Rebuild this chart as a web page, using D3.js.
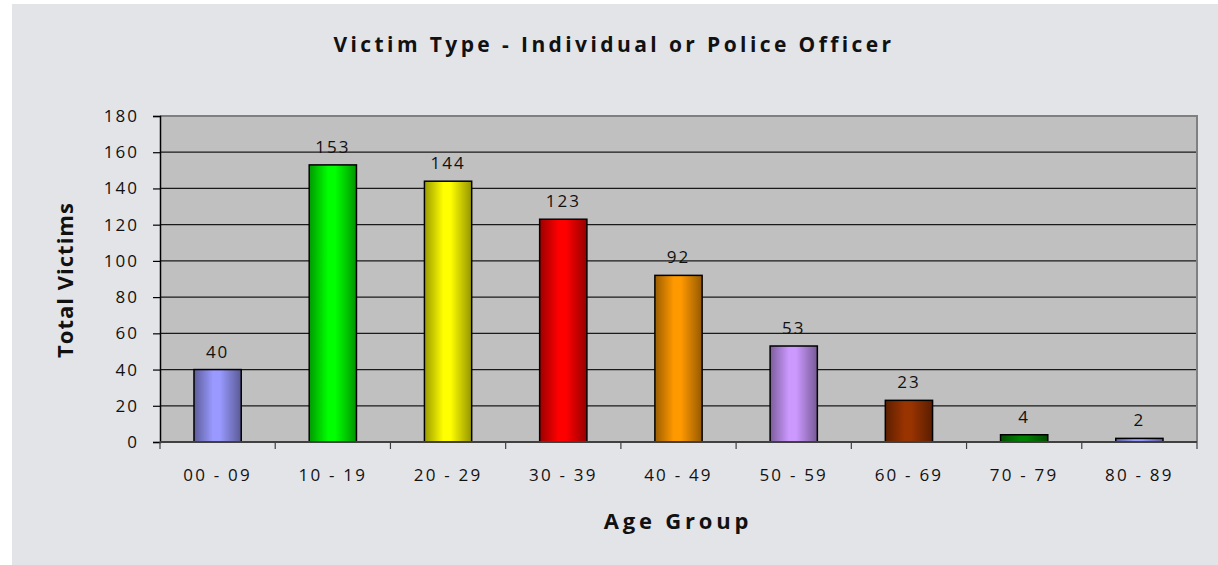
<!DOCTYPE html>
<html>
<head>
<meta charset="utf-8">
<script src="https://cdn.jsdelivr.net/npm/d3@7"></script>
<style>
  body { margin: 0; background: #fff; }
  text { font-family: "Open Sans", "Noto Sans", sans-serif; fill: #111; }
</style>
</head>
<body>
<div id="chart"></div>
<script>
var ageGroups = ["00 - 09", "10 - 19", "20 - 29", "30 - 39", "40 - 49", "50 - 59", "60 - 69", "70 - 79", "80 - 89"];
var victims = [40, 153, 144, 123, 92, 53, 23, 4, 2];
var barColors = ["#9999ff", "#00ff00", "#ffff00", "#ff0000", "#ff9900", "#cc99ff", "#993300", "#008000", "#9999ff"];
var yTicks = [0, 20, 40, 60, 80, 100, 120, 140, 160, 180];

var width = 1218, height = 565;
var margin = {top: 116, right: 21, bottom: 123, left: 160};
var w = width - margin.left - margin.right,
    h = height - margin.top - margin.bottom;

var svg = d3.select("#chart").append("svg")
    .attr("width", width)
    .attr("height", height);

// outer chart background
svg.append("rect")
    .attr("x", 12).attr("y", 4)
    .attr("width", width - 12).attr("height", height - 4)
    .attr("fill", "#e3e4e8");

var defs = svg.append("defs");
barColors.forEach(function(c, i) {
  var g = defs.append("linearGradient")
      .attr("id", "grad" + i)
      .attr("x1", "0%").attr("x2", "100%").attr("y1", "0%").attr("y2", "0%");
  g.append("stop").attr("offset", "0%").attr("stop-color", d3.color(c).darker(1.4));
  g.append("stop").attr("offset", "40%").attr("stop-color", c);
  g.append("stop").attr("offset", "55%").attr("stop-color", c);
  g.append("stop").attr("offset", "100%").attr("stop-color", d3.color(c).darker(1.5));
});

var x = d3.scaleBand()
    .domain(ageGroups)
    .range([0, w])
    .paddingInner(0.59)
    .paddingOuter(0.295);

var y = d3.scaleLinear()
    .domain([0, 180])
    .range([h, 0]);

var plot = svg.append("g")
    .attr("transform", "translate(" + margin.left + "," + margin.top + ")");

plot.append("rect")
    .attr("width", w).attr("height", h)
    .attr("fill", "#c0c0c0");

// gridlines
plot.append("g")
    .selectAll("line")
    .data(yTicks.slice(1, -1))
    .enter().append("line")
    .attr("x1", 0).attr("x2", w)
    .attr("y1", function(d) { return y(d); })
    .attr("y2", function(d) { return y(d); })
    .attr("stroke", "#1a1a1a")
    .attr("stroke-width", 1.2);

// plot border top and right
plot.append("path")
    .attr("d", "M0,0H" + w + "V" + h)
    .attr("fill", "none")
    .attr("stroke", "#808080")
    .attr("stroke-width", 2);

// bars
plot.selectAll(".bar")
    .data(victims)
    .enter().append("rect")
    .attr("class", "bar")
    .attr("x", function(d, i) { return x(ageGroups[i]); })
    .attr("y", function(d) { return y(d); })
    .attr("width", x.bandwidth())
    .attr("height", function(d) { return h - y(d); })
    .attr("fill", function(d, i) { return "url(#grad" + i + ")"; })
    .attr("stroke", "#000")
    .attr("stroke-width", 1.5);

// value labels
plot.selectAll(".val")
    .data(victims)
    .enter().append("text")
    .attr("class", "val")
    .attr("x", function(d, i) { return x(ageGroups[i]) + x.bandwidth() / 2; })
    .attr("y", function(d) { return y(d) - 12; })
    .attr("text-anchor", "middle")
    .attr("font-size", "17px")
    .attr("letter-spacing", "2px")
    .text(function(d) { return d; });

// y axis
var yAxis = plot.append("g")
    .call(d3.axisLeft(y).tickValues(yTicks).tickSize(7).tickPadding(14));
yAxis.select(".domain").attr("stroke", "#000").attr("stroke-width", 1.5);
yAxis.selectAll(".tick line").attr("stroke", "#000").attr("stroke-width", 1.2);
yAxis.selectAll("text")
    .attr("font-size", "17px")
    .attr("letter-spacing", "2px")
    .attr("fill", "#111")
    .style("font-family", "'Open Sans', sans-serif");

// x axis with ticks at band boundaries
var xAxisG = plot.append("g")
    .attr("transform", "translate(0," + h + ")");
xAxisG.append("line")
    .attr("x1", 0).attr("x2", w)
    .attr("stroke", "#404040").attr("stroke-width", 2);
var step = w / ageGroups.length;
xAxisG.selectAll(".xt")
    .data(d3.range(ageGroups.length + 1))
    .enter().append("line")
    .attr("class", "xt")
    .attr("x1", function(i) { return i * step; })
    .attr("x2", function(i) { return i * step; })
    .attr("y1", 0).attr("y2", 7)
    .attr("stroke", "#404040").attr("stroke-width", 1.2);
xAxisG.selectAll(".xl")
    .data(ageGroups)
    .enter().append("text")
    .attr("class", "xl")
    .attr("x", function(d) { return x(d) + x.bandwidth() / 2; })
    .attr("y", 39)
    .attr("text-anchor", "middle")
    .attr("font-size", "17px")
    .attr("letter-spacing", "2.2px")
    .text(function(d) { return d; });

// titles
svg.append("text")
    .attr("x", 614).attr("y", 52)
    .attr("text-anchor", "middle")
    .attr("font-size", "21px")
    .attr("font-weight", "bold")
    .attr("letter-spacing", "3.4px")
    .text("Victim Type - Individual or Police Officer");

svg.append("text")
    .attr("x", 678).attr("y", 529)
    .attr("text-anchor", "middle")
    .attr("font-size", "22px")
    .attr("font-weight", "bold")
    .attr("letter-spacing", "3.8px")
    .text("Age Group");

svg.append("text")
    .attr("transform", "translate(73,280) rotate(-90)")
    .attr("text-anchor", "middle")
    .attr("font-size", "22px")
    .attr("font-weight", "bold")
    .attr("letter-spacing", "1px")
    .text("Total Victims");
</script>
</body>
</html>
